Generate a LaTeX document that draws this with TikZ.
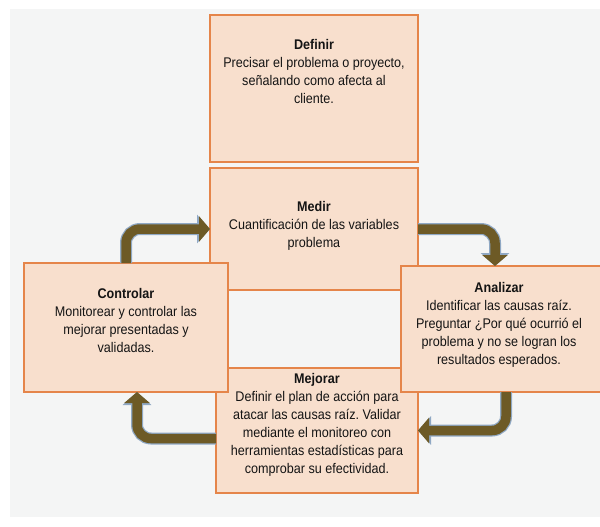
\documentclass[tikz,border=0pt]{standalone}
\usepackage{fontspec}
\setmainfont{Liberation Sans}[FakeStretch=0.9]
\usetikzlibrary{arrows.meta}
\definecolor{bgcol}{HTML}{F4F5F5}
\definecolor{boxfill}{HTML}{F8DFCD}
\definecolor{boxline}{HTML}{E5854A}
\definecolor{arrfill}{HTML}{6D5A26}
\definecolor{arrline}{HTML}{8FA8C4}
\definecolor{txtcol}{HTML}{141414}
\frenchspacing
\begin{document}
\begin{tikzpicture}[x=1pt,y=-1pt,
  box/.style={draw=boxline, line width=1.8pt, fill=boxfill, anchor=north west, inner sep=0pt, outer sep=0pt},
  txt/.style={anchor=north, align=center, inner sep=0pt, font=\fontsize{14}{18}\selectfont, text=txtcol},
  flowout/.style={line width=12pt, draw=arrline, rounded corners=14pt, -{Triangle[width=28pt,length=13pt]}},
  flowin/.style={line width=9.5pt, draw=arrfill, rounded corners=14pt, -{Triangle[width=25pt,length=11pt]}}]
\useasboundingbox (0,0) rectangle (600,527);
\fill[bgcol] (10,9) rectangle (600,517);
% boxes
\node[box, minimum width=208pt, minimum height=147pt] (def) at (210,15) {};
\node[box, minimum width=208pt, minimum height=122pt] (med) at (210,168) {};
\node[box, minimum width=202pt, minimum height=125pt] (mej) at (216,368) {};
\node[box, minimum width=204pt, minimum height=129pt] (ctrl) at (24,263) {};
\node[box, minimum width=204pt, minimum height=126pt] (anal) at (401,266) {};
% texts
\node[txt] (tdef) at (314,39) {\textbf{Definir}\\Precisar el problema o proyecto,\\señalando como afecta al\\cliente.};
\node[txt] (tmed) at (314,201) {\textbf{Medir}\\Cuantificación de las variables\\problema};
\node[txt] (tanal) at (499,282) {\textbf{Analizar}\\Identificar las causas raíz.\\Preguntar ¿Por qué ocurrió el\\problema y no se logran los\\resultados esperados.};
\node[txt] (tctrl) at (126,288) {\textbf{Controlar}\\Monitorear y controlar las\\mejorar presentadas y\\validadas.};
\node[txt] (tmej) at (317,373) {\textbf{Mejorar}\\Definir el plan de acción para\\atacar las causas raíz. Validar\\mediante el monitoreo con\\herramientas estadísticas para\\comprobar su efectividad.};
% arrows
\draw[flowout] (ctrl.north) |- (med.west);
\draw[flowin] (ctrl.north) |- (med.west);
\draw[flowout] (med.east) -| ([xshift=-8pt]anal.north);
\draw[flowin] (med.east) -| ([xshift=-8pt]anal.north);
\draw[flowout] ([xshift=3pt]anal.south) |- (mej.east);
\draw[flowin] ([xshift=3pt]anal.south) |- (mej.east);
\draw[flowout] ([yshift=-8pt]mej.west) -| ([xshift=11pt]ctrl.south);
\draw[flowin] ([yshift=-8pt]mej.west) -| ([xshift=11pt]ctrl.south);
\end{tikzpicture}
\end{document}
